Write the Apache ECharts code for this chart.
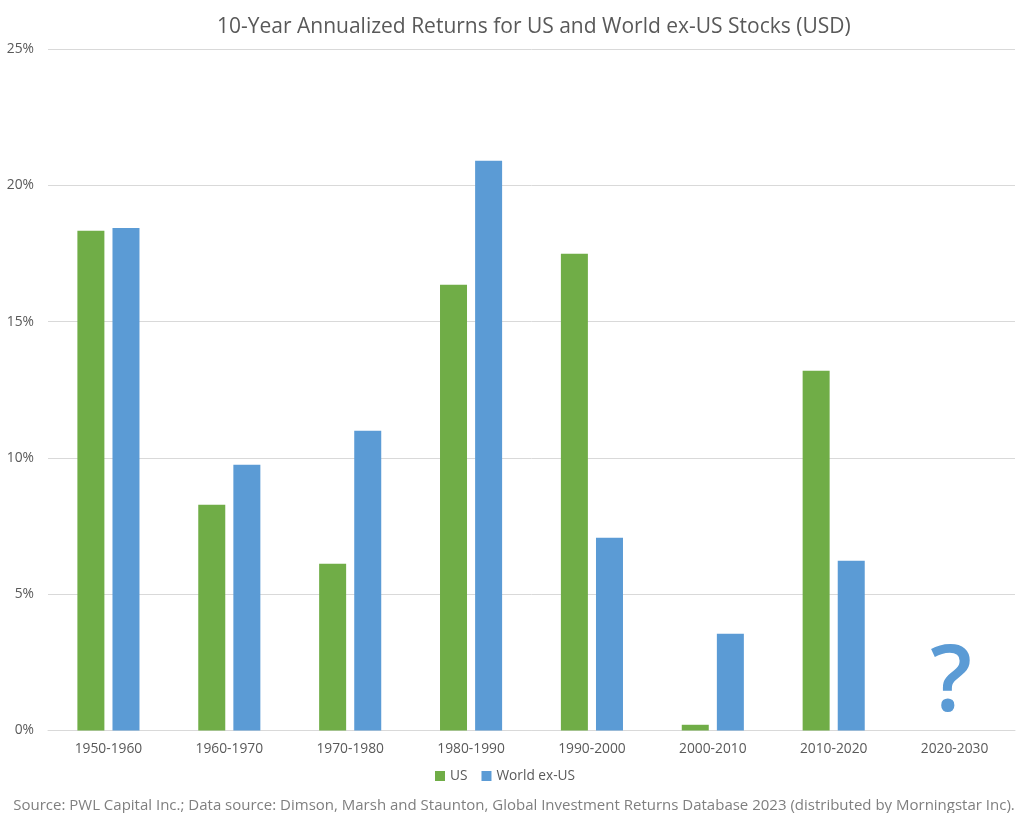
<!DOCTYPE html>
<html><head><meta charset="utf-8">
<script src="https://cdn.jsdelivr.net/npm/echarts@6/dist/echarts.min.js"></script>
<style>html,body{margin:0;padding:0;background:#fff}#c{width:1028px;height:813px}</style>
</head><body><div id="c"></div>
<script>
const categories = ['1950-1960','1960-1970','1970-1980','1980-1990','1990-2000','2000-2010','2010-2020','2020-2030'];
const usReturns = [18.33, 8.28, 6.12, 16.35, 17.49, 0.21, 13.2, null];
const worldExUsReturns = [18.43, 9.75, 11.0, 20.9, 7.07, 3.55, 6.23, null];
const yTicks = [0, 5, 10, 15, 20, 25];
const unknownLabel = { category: '2020-2030', value: 2.0, text: '?' };

const FONT = '"Open Sans", "Noto Sans", sans-serif';
const chart = echarts.init(document.getElementById('c'));
chart.setOption({
  backgroundColor: '#fff',
  animation: false,
  textStyle: { fontFamily: FONT },
  title: {
    text: '10-Year Annualized Returns for US and World ex-US Stocks (USD)',
    left: 217, top: 17, padding: 0,
    textStyle: { fontFamily: FONT, fontSize: 21, fontWeight: 'normal', color: '#595959' }
  },
  legend: {
    bottom: 25, left: 430,
    itemWidth: 10, itemHeight: 10, itemGap: 14,
    icon: 'rect',
    textStyle: { fontFamily: FONT, fontSize: 13.7, color: '#595959' },
    data: ['US', 'World ex-US']
  },
  graphic: [{
    type: 'text', left: 'center', bottom: 0,
    style: {
      text: 'Source: PWL Capital Inc.; Data source: Dimson, Marsh and Staunton, Global Investment Returns Database 2023 (distributed by Morningstar Inc).',
      font: '15px ' + FONT, fill: '#7f7f7f'
    }
  }],
  grid: { left: 48, right: 13, top: 49, bottom: 82.5, containLabel: false },
  xAxis: {
    type: 'category', data: categories,
    axisLine: { lineStyle: { color: '#d9d9d9' } },
    axisTick: { show: false },
    axisLabel: { fontFamily: FONT, fontSize: 13.8, color: '#595959', margin: 12 }
  },
  yAxis: {
    type: 'value', min: yTicks[0], max: yTicks[yTicks.length - 1], interval: 5,
    axisLine: { show: false }, axisTick: { show: false },
    splitLine: { lineStyle: { color: '#d9d9d9' } },
    axisLabel: { fontFamily: FONT, fontSize: 13.8, color: '#595959', margin: 14, formatter: v => v + '%' }
  },
  series: [
    { name: 'US', type: 'bar', data: usReturns, barWidth: 27, barGap: '30%',
      itemStyle: { color: '#70AD47' } },
    { name: 'World ex-US', type: 'bar', data: worldExUsReturns, barWidth: 27,
      itemStyle: { color: '#5B9BD5' },
      markPoint: {
        symbol: 'circle', symbolSize: 0,
        data: [{ coord: [unknownLabel.category, unknownLabel.value] }],
        label: { show: true, formatter: unknownLabel.text, position: 'inside', offset: [-21, 9],
          fontFamily: FONT, fontSize: 92, fontWeight: 600, color: '#5B9BD5' }
      } }
  ]
});
</script></body></html>
